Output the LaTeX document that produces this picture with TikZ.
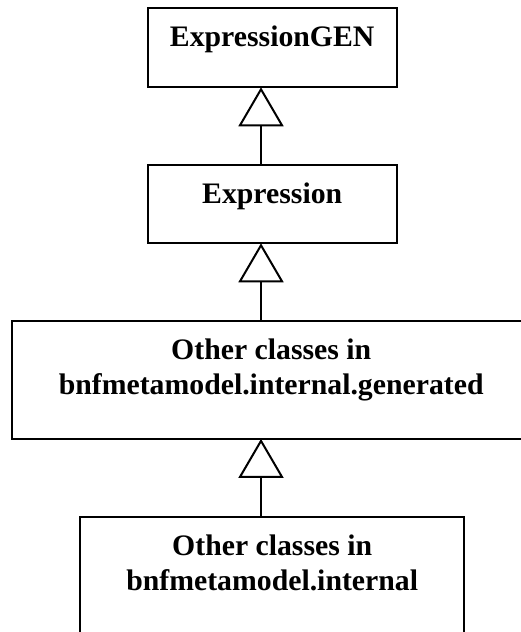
\documentclass[tikz,border=0pt]{standalone}
\usepackage{fontspec}
\setmainfont{Liberation Serif}
\usetikzlibrary{positioning,arrows.meta}

\tikzset{
  cls/.style={draw, line width=2pt, inner sep=0pt, outer sep=0pt,
    font=\fontsize{29.75}{35}\selectfont\bfseries},
  inherit/.style={line width=2pt, -{Triangle[open, length=39pt, width=45pt]}}
}
\newcommand{\clsbody}[3]{\parbox[c][#2][t]{#1}{\centering\rule{0pt}{38.4pt}#3}}

\begin{document}
\begin{tikzpicture}[x=1pt, y=-1pt, node distance=78pt]
  \useasboundingbox (0,0) rectangle (521,632);
  \clip (0,0) rectangle (521,632);

  % Classes
  \node[cls] (gen) at (272.2,47.8) {\clsbody{249pt}{79pt}{ExpressionGEN}};
  \node[cls, below=of gen] (expr) {\clsbody{249pt}{78pt}{Expression}};
  \node[cls, below=of expr, xshift=-1pt] (generated)
    {\clsbody{517.7pt}{117.6pt}{Other classes in\\ bnfmetamodel.internal.generated}};
  \node[cls, below=of generated, xshift=1pt] (internal)
    {\clsbody{384.3pt}{118pt}{Other classes in\\ bnfmetamodel.internal}};

  % Generalisation arrows
  \coordinate (axis) at (261,0);
  \draw[inherit] (expr.north -| axis) -- (gen.south -| axis);
  \draw[inherit] (generated.north -| axis) -- (expr.south -| axis);
  \draw[inherit] (internal.north -| axis) -- (generated.south -| axis);
\end{tikzpicture}
\end{document}
